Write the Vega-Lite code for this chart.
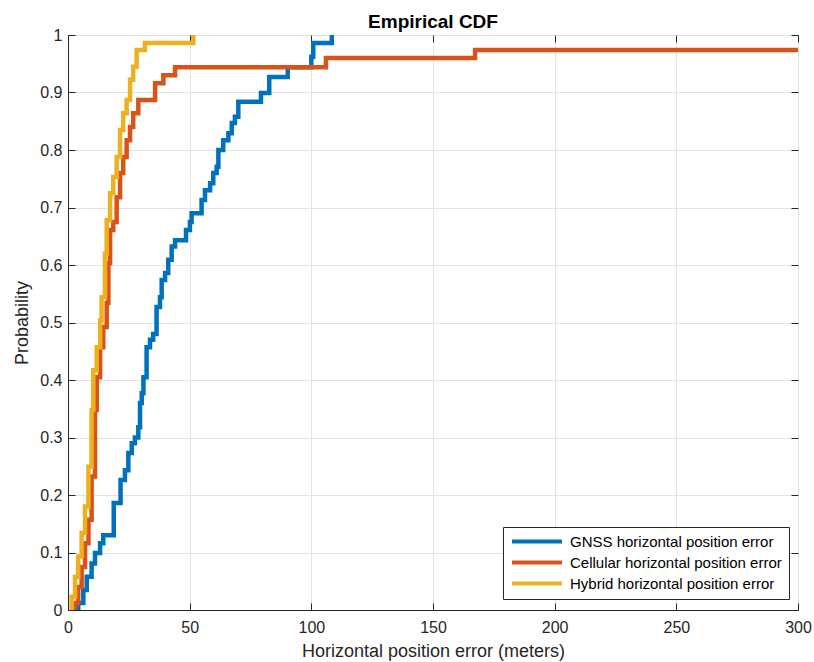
{
  "$schema": "https://vega.github.io/schema/vega-lite/v6.json",
  "width": 730,
  "height": 575,
  "autosize": "none",
  "padding": {"left": 68, "top": 35, "right": 16, "bottom": 52},
  "background": "white",
  "config": {
    "font": "Liberation Sans",
    "view": {"stroke": "#262626", "strokeWidth": 1},
    "axis": {
      "domainColor": "#262626",
      "tickColor": "#262626",
      "gridColor": "#e3e3e3",
      "labelColor": "#262626",
      "titleColor": "#262626",
      "labelFontSize": 16,
      "titleFontSize": 18,
      "titleFontWeight": "normal",
      "tickSize": -7,
      "labelFlush": false
    }
  },
  "title": {"text": "Empirical CDF", "fontSize": 19, "fontWeight": "bold", "color": "#000000", "offset": -5},
  "data": {
    "values": [
      {"series": "GNSS horizontal position error", "x": 3.6, "y": 0},
      {"series": "GNSS horizontal position error", "x": 4.2, "y": 0.012},
      {"series": "GNSS horizontal position error", "x": 6.3, "y": 0.035},
      {"series": "GNSS horizontal position error", "x": 7.7, "y": 0.058},
      {"series": "GNSS horizontal position error", "x": 9.7, "y": 0.081},
      {"series": "GNSS horizontal position error", "x": 11.1, "y": 0.099},
      {"series": "GNSS horizontal position error", "x": 13.2, "y": 0.116},
      {"series": "GNSS horizontal position error", "x": 14.5, "y": 0.13},
      {"series": "GNSS horizontal position error", "x": 18.8, "y": 0.186},
      {"series": "GNSS horizontal position error", "x": 21.6, "y": 0.226},
      {"series": "GNSS horizontal position error", "x": 23.4, "y": 0.243},
      {"series": "GNSS horizontal position error", "x": 24.8, "y": 0.273},
      {"series": "GNSS horizontal position error", "x": 26.2, "y": 0.29},
      {"series": "GNSS horizontal position error", "x": 27.5, "y": 0.3},
      {"series": "GNSS horizontal position error", "x": 28.9, "y": 0.318},
      {"series": "GNSS horizontal position error", "x": 29.6, "y": 0.36},
      {"series": "GNSS horizontal position error", "x": 30.3, "y": 0.377},
      {"series": "GNSS horizontal position error", "x": 31.0, "y": 0.405},
      {"series": "GNSS horizontal position error", "x": 32.3, "y": 0.457},
      {"series": "GNSS horizontal position error", "x": 33.7, "y": 0.47},
      {"series": "GNSS horizontal position error", "x": 35.0, "y": 0.48},
      {"series": "GNSS horizontal position error", "x": 36.4, "y": 0.527},
      {"series": "GNSS horizontal position error", "x": 37.8, "y": 0.544},
      {"series": "GNSS horizontal position error", "x": 38.5, "y": 0.574},
      {"series": "GNSS horizontal position error", "x": 39.9, "y": 0.586},
      {"series": "GNSS horizontal position error", "x": 41.2, "y": 0.609},
      {"series": "GNSS horizontal position error", "x": 42.6, "y": 0.632},
      {"series": "GNSS horizontal position error", "x": 44.0, "y": 0.643},
      {"series": "GNSS horizontal position error", "x": 48.5, "y": 0.661},
      {"series": "GNSS horizontal position error", "x": 50.1, "y": 0.675},
      {"series": "GNSS horizontal position error", "x": 50.8, "y": 0.69},
      {"series": "GNSS horizontal position error", "x": 54.9, "y": 0.713},
      {"series": "GNSS horizontal position error", "x": 56.3, "y": 0.73},
      {"series": "GNSS horizontal position error", "x": 58.4, "y": 0.742},
      {"series": "GNSS horizontal position error", "x": 59.7, "y": 0.76},
      {"series": "GNSS horizontal position error", "x": 61.1, "y": 0.771},
      {"series": "GNSS horizontal position error", "x": 61.8, "y": 0.8},
      {"series": "GNSS horizontal position error", "x": 63.8, "y": 0.817},
      {"series": "GNSS horizontal position error", "x": 65.9, "y": 0.829},
      {"series": "GNSS horizontal position error", "x": 67.3, "y": 0.847},
      {"series": "GNSS horizontal position error", "x": 68.6, "y": 0.858},
      {"series": "GNSS horizontal position error", "x": 70.0, "y": 0.884},
      {"series": "GNSS horizontal position error", "x": 79.3, "y": 0.899},
      {"series": "GNSS horizontal position error", "x": 82.7, "y": 0.927},
      {"series": "GNSS horizontal position error", "x": 90.3, "y": 0.944},
      {"series": "GNSS horizontal position error", "x": 100.0, "y": 0.962},
      {"series": "GNSS horizontal position error", "x": 100.8, "y": 0.986},
      {"series": "GNSS horizontal position error", "x": 108.4, "y": 1.0},
      {"series": "Cellular horizontal position error", "x": 2.3, "y": 0},
      {"series": "Cellular horizontal position error", "x": 2.9, "y": 0.012},
      {"series": "Cellular horizontal position error", "x": 4.2, "y": 0.04},
      {"series": "Cellular horizontal position error", "x": 5.6, "y": 0.075},
      {"series": "Cellular horizontal position error", "x": 7.0, "y": 0.116},
      {"series": "Cellular horizontal position error", "x": 8.4, "y": 0.157},
      {"series": "Cellular horizontal position error", "x": 9.7, "y": 0.232},
      {"series": "Cellular horizontal position error", "x": 11.1, "y": 0.348},
      {"series": "Cellular horizontal position error", "x": 11.8, "y": 0.405},
      {"series": "Cellular horizontal position error", "x": 13.2, "y": 0.457},
      {"series": "Cellular horizontal position error", "x": 14.5, "y": 0.492},
      {"series": "Cellular horizontal position error", "x": 15.9, "y": 0.534},
      {"series": "Cellular horizontal position error", "x": 16.6, "y": 0.603},
      {"series": "Cellular horizontal position error", "x": 17.3, "y": 0.661},
      {"series": "Cellular horizontal position error", "x": 18.6, "y": 0.675},
      {"series": "Cellular horizontal position error", "x": 20.0, "y": 0.718},
      {"series": "Cellular horizontal position error", "x": 21.4, "y": 0.76},
      {"series": "Cellular horizontal position error", "x": 22.7, "y": 0.788},
      {"series": "Cellular horizontal position error", "x": 24.1, "y": 0.817},
      {"series": "Cellular horizontal position error", "x": 25.5, "y": 0.84},
      {"series": "Cellular horizontal position error", "x": 26.8, "y": 0.864},
      {"series": "Cellular horizontal position error", "x": 28.9, "y": 0.887},
      {"series": "Cellular horizontal position error", "x": 35.8, "y": 0.916},
      {"series": "Cellular horizontal position error", "x": 39.2, "y": 0.93},
      {"series": "Cellular horizontal position error", "x": 44.0, "y": 0.944},
      {"series": "Cellular horizontal position error", "x": 106.0, "y": 0.96},
      {"series": "Cellular horizontal position error", "x": 167.3, "y": 0.974},
      {"series": "Cellular horizontal position error", "x": 300, "y": 0.974},
      {"series": "Hybrid horizontal position error", "x": 0.8, "y": 0},
      {"series": "Hybrid horizontal position error", "x": 1.5, "y": 0.023},
      {"series": "Hybrid horizontal position error", "x": 2.9, "y": 0.058},
      {"series": "Hybrid horizontal position error", "x": 4.2, "y": 0.093},
      {"series": "Hybrid horizontal position error", "x": 5.6, "y": 0.134},
      {"series": "Hybrid horizontal position error", "x": 7.0, "y": 0.18},
      {"series": "Hybrid horizontal position error", "x": 8.4, "y": 0.249},
      {"series": "Hybrid horizontal position error", "x": 9.7, "y": 0.348},
      {"series": "Hybrid horizontal position error", "x": 10.4, "y": 0.417},
      {"series": "Hybrid horizontal position error", "x": 11.8, "y": 0.457},
      {"series": "Hybrid horizontal position error", "x": 13.2, "y": 0.504},
      {"series": "Hybrid horizontal position error", "x": 13.8, "y": 0.544},
      {"series": "Hybrid horizontal position error", "x": 15.2, "y": 0.62},
      {"series": "Hybrid horizontal position error", "x": 15.9, "y": 0.678},
      {"series": "Hybrid horizontal position error", "x": 17.3, "y": 0.725},
      {"series": "Hybrid horizontal position error", "x": 18.6, "y": 0.753},
      {"series": "Hybrid horizontal position error", "x": 20.0, "y": 0.788},
      {"series": "Hybrid horizontal position error", "x": 21.4, "y": 0.835},
      {"series": "Hybrid horizontal position error", "x": 22.7, "y": 0.864},
      {"series": "Hybrid horizontal position error", "x": 24.1, "y": 0.887},
      {"series": "Hybrid horizontal position error", "x": 25.5, "y": 0.922},
      {"series": "Hybrid horizontal position error", "x": 26.8, "y": 0.945},
      {"series": "Hybrid horizontal position error", "x": 28.2, "y": 0.974},
      {"series": "Hybrid horizontal position error", "x": 31.6, "y": 0.986},
      {"series": "Hybrid horizontal position error", "x": 51.5, "y": 1.0}
    ]
  },
  "layer": [
    {
      "mark": {"type": "line", "interpolate": "step-after", "strokeWidth": 4.5, "clip": true, "strokeJoin": "miter"},
      "encoding": {
        "x": {
          "field": "x", "type": "quantitative",
          "scale": {"domain": [0, 300], "nice": false, "zero": false},
          "axis": {"values": [0, 50, 100, 150, 200, 250, 300], "title": "Horizontal position error (meters)", "titlePadding": 7, "labelPadding": 16}
        },
        "y": {
          "field": "y", "type": "quantitative",
          "scale": {"domain": [0, 1], "nice": false},
          "axis": {"values": [0, 0.1, 0.2, 0.3, 0.4, 0.5, 0.6, 0.7, 0.8, 0.9, 1], "format": "~g", "title": "Probability", "titlePadding": 8, "labelPadding": 13}
        },
        "color": {
          "field": "series", "type": "nominal",
          "scale": {
            "domain": ["GNSS horizontal position error", "Cellular horizontal position error", "Hybrid horizontal position error"],
            "range": ["#0072BD", "#D95319", "#EDB120"]
          },
          "legend": {
            "title": null,
            "orient": "none",
            "legendX": 435,
            "legendY": 492,
            "symbolType": "stroke",
            "symbolStrokeWidth": 4,
            "symbolSize": 2500,
            "clipHeight": 15,
            "labelFontSize": 15,
            "labelLimit": 0,
            "labelOffset": 6,
            "labelColor": "#000000",
            "rowPadding": 5,
            "padding": 7,
            "strokeColor": "#262626",
            "fillColor": "white"
          }
        },
        "order": {"field": "x", "type": "quantitative"}
      }
    },
    {
      "mark": {"type": "point", "opacity": 0},
      "encoding": {
        "x": {
          "field": "x", "type": "quantitative",
          "axis": {"orient": "top", "values": [0, 50, 100, 150, 200, 250, 300], "labels": false, "title": null, "grid": false, "domain": false}
        },
        "y": {
          "field": "y", "type": "quantitative",
          "axis": {"orient": "right", "values": [0, 0.1, 0.2, 0.3, 0.4, 0.5, 0.6, 0.7, 0.8, 0.9, 1], "labels": false, "title": null, "grid": false, "domain": false}
        }
      }
    }
  ],
  "resolve": {"axis": {"x": "independent", "y": "independent"}}
}
